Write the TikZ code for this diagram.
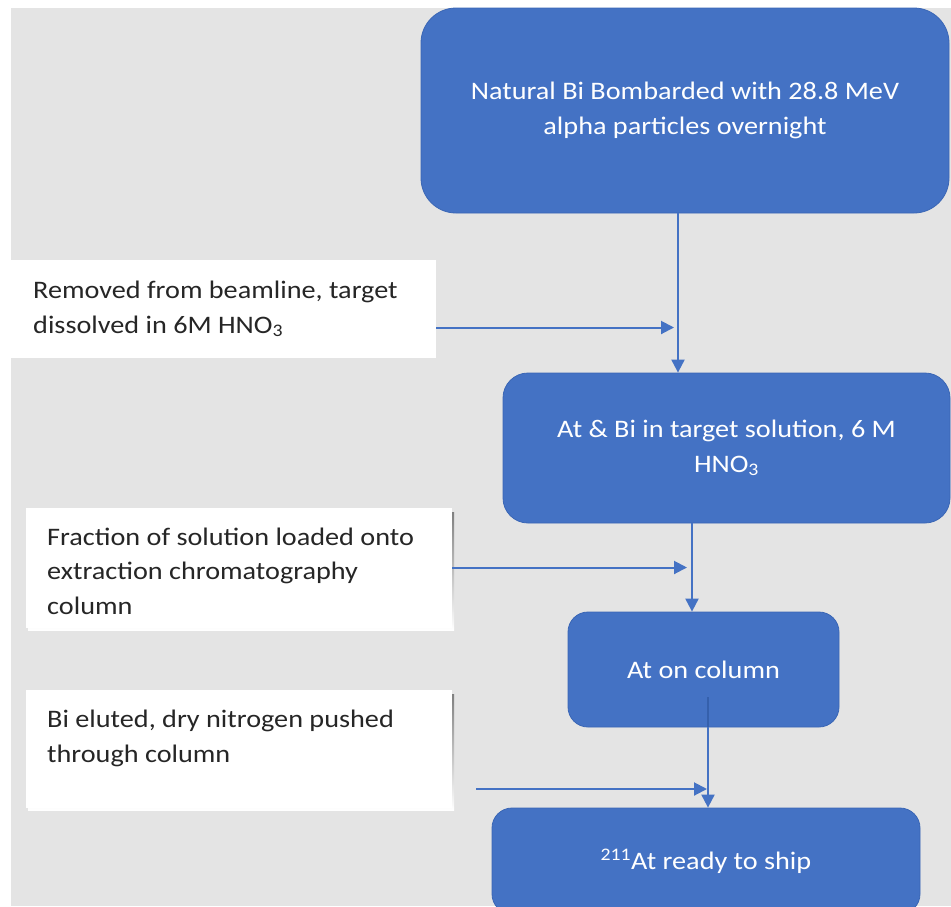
\documentclass[tikz,border=0pt]{standalone}
\usepackage{fontspec}
\setmainfont[FakeStretch=1.12]{Carlito}
\usetikzlibrary{arrows.meta}
\definecolor{bg}{HTML}{E4E4E4}
\definecolor{boxblue}{HTML}{4472C4}
\definecolor{boxedge}{HTML}{3A66B5}
\definecolor{inline}{HTML}{3560AC}
\definecolor{shade}{HTML}{D2D2D2}
\definecolor{txtdark}{HTML}{262626}
\newcommand{\diafont}{\fontsize{25.2}{34.5}\selectfont}
\begin{document}
\begin{tikzpicture}[x=1pt,y=-1pt,
  stepbox/.style={fill=boxblue, draw=boxedge, line width=0.8pt, text=white,
    font=\diafont, align=center, inner sep=0pt},
  notebox/.style={fill=white, draw=none, inner sep=0pt},
  notetext/.style={anchor=base west, align=left, text=txtdark, font=\diafont, inner sep=0pt},
  arr/.style={draw=boxblue, line width=2pt, -{Triangle[length=13pt,width=13pt]}},
  link/.style={draw=inline, line width=2pt}
]
\useasboundingbox (0,0) rectangle (951,906);
\clip (0,0) rectangle (951,906);
\fill[bg] (11,8) rectangle (951,906);

% main flow boxes
\node[stepbox, rounded corners=35pt, minimum width=528pt, minimum height=205pt]
  (box1) at (685,110.5) {Natural Bi Bombarded with 28.8 MeV\\alpha particles overnight};
\node[stepbox, rounded corners=25pt, minimum width=447pt, minimum height=150pt]
  (box2) at (726.5,448) {At \& Bi in target solution, 6 M\\HNO\textsubscript{3}};
\node[stepbox, rounded corners=20pt, minimum width=271pt, minimum height=115pt]
  (box3) at (703.5,669.5) {At on column};
\node[stepbox, rounded corners=20pt, minimum width=428pt, minimum height=106pt]
  (box4) at (706,861) {\textsuperscript{211}At ready to ship};

% side note boxes (with a faint shadow edge)
\fill[shade] (28,512) rectangle (454,630);
\fill[shade] (28,694) rectangle (454,810);
\node[notebox, minimum width=425pt, minimum height=98pt] (w1) at (223.5,309) {};
\node[notebox, minimum width=426pt, minimum height=120pt] (w2) at (239,568) {};
\node[notebox, minimum width=426pt, minimum height=118pt] (w3) at (239,749) {};

\node[notetext] (t1) at (33,333) {Removed from beamline, target\\dissolved in 6M HNO\textsubscript{3}};
\node[notetext] (t2) at (47,614) {Fraction of solution loaded onto\\extraction chromatography\\column};
\node[notetext] (t3) at (47,762) {Bi eluted, dry nitrogen pushed\\through column};

% connector coordinates
\coordinate (c1) at (678,0);
\coordinate (c2) at (692,0);
\coordinate (c3) at (708,697);
\coordinate (h1) at (674,327.5);
\coordinate (h2) at (687,567.5);
\coordinate (s3) at (476,789);
\coordinate (h3) at (707,789);

% vertical flow arrows
\draw[arr] (box1.south -| c1) -- (box2.north -| c1);
\draw[arr] (box2.south -| c2) -- (box3.north -| c2);
\draw[arr] (c3) -- (box4.north -| c3);
\draw[link] (c3) -- (box3.south -| c3);

% side arrows
\draw[arr] (w1.east |- h1) -- (h1);
\draw[arr] (w2.east |- h2) -- (h2);
\draw[arr] (s3) -- (h3);
\end{tikzpicture}
\end{document}
